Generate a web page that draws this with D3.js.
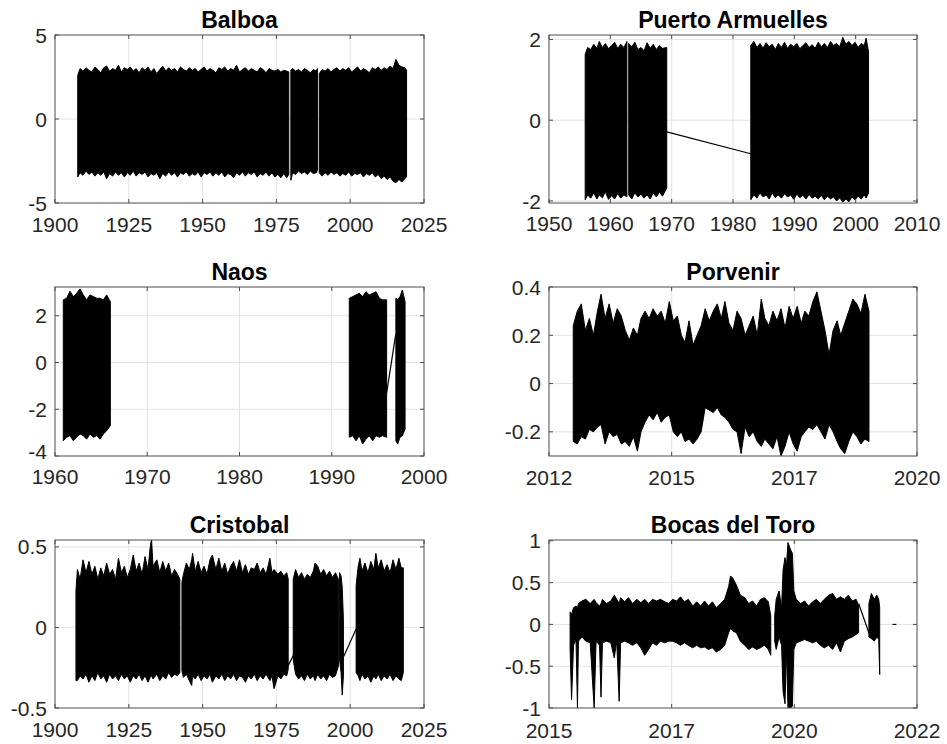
<!DOCTYPE html>
<html>
<head>
<meta charset="utf-8">
<script src="https://cdn.jsdelivr.net/npm/d3@7"></script>
<style>
  html, body { margin: 0; padding: 0; background: #fff; }
  svg { display: block; }
  text { font-family: Arial, "Liberation Sans", Helvetica, sans-serif; }
</style>
</head>
<body>
<svg id="chart" width="947" height="744"></svg>
<script>
// ---------- DATA (rows: [time, upper envelope, lower envelope]; null = data gap) ----------
const titles = ["Balboa", "Puerto Armuelles", "Naos", "Porvenir", "Cristobal", "Bocas del Toro"];

const balboaData = [
  [1907.7,2.6,-3.45],[1908.5,3.0,-3.2],[1909.5,2.85,-3.35],[1910.5,3.05,-3.1],[1911.5,2.9,-3.3],[1912.5,2.8,-3.15],
  [1913.5,3.1,-3.4],[1914.5,2.95,-3.2],[1915.5,2.75,-3.35],[1916.5,3.05,-3.15],[1917.5,3.15,-3.55],[1918.5,2.85,-3.25],
  [1919.5,3.0,-3.4],[1920.5,2.9,-3.15],[1921.5,3.2,-3.35],[1922.5,2.8,-3.2],[1923.5,3.05,-3.45],[1924.5,2.95,-3.2],
  [1925.5,3.1,-3.35],[1926.5,2.85,-3.1],[1927.5,3.0,-3.4],[1928.5,2.75,-3.2],[1929.5,3.05,-3.3],[1930.5,2.9,-3.15],
  [1931.5,3.1,-3.45],[1932.5,2.8,-3.25],[1933.5,3.0,-3.35],[1934.5,2.7,-3.2],[1935.5,2.95,-3.55],[1936.5,3.15,-3.25],
  [1937.5,2.85,-3.4],[1938.5,3.05,-3.15],[1939.5,2.9,-3.35],[1940.5,3.0,-3.2],[1941.5,2.8,-3.45],[1942.5,3.1,-3.2],
  [1943.5,2.95,-3.3],[1944.5,2.85,-3.15],[1945.5,3.05,-3.4],[1946.5,2.9,-3.25],[1947.5,3.0,-3.35],[1948.5,2.8,-3.15],
  [1949.5,2.95,-3.45],[1950.5,3.1,-3.2],[1951.5,2.85,-3.3],[1952.5,3.0,-3.15],[1953.5,2.9,-3.4],[1954.5,2.75,-3.2],
  [1955.5,3.05,-3.35],[1956.5,2.95,-3.15],[1957.5,3.1,-3.45],[1958.5,2.85,-3.25],[1959.5,3.0,-3.3],[1960.5,2.9,-3.5],
  [1961.5,3.2,-3.2],[1962.5,2.8,-3.35],[1963.5,2.95,-3.15],[1964.5,3.05,-3.4],[1965.5,2.85,-3.2],[1966.5,3.0,-3.3],
  [1967.5,2.9,-3.15],[1968.5,2.8,-3.45],[1969.5,3.05,-3.25],[1970.5,2.95,-3.35],[1971.5,2.75,-3.15],[1972.5,3.0,-3.4],
  [1973.5,2.9,-3.2],[1974.5,2.85,-3.45],[1975.5,2.95,-3.3],[1976.5,2.8,-3.5],[1977.5,2.9,-3.25],[1978.5,2.85,-3.5],
  [1979.2,2.8,-3.3],
  null,
  [1979.9,2.9,-3.65],[1980.5,3.0,-3.2],[1981.5,2.85,-3.3],[1982.5,2.95,-3.1],[1983.5,2.8,-3.25],[1984.5,3.0,-3.15],
  [1985.5,2.9,-3.3],[1986.5,2.75,-3.1],[1987.5,2.95,-3.25],[1988.5,2.85,-3.2],[1988.9,3.0,-3.05],
  null,
  [1989.5,2.7,-3.2],[1990.5,2.95,-3.4],[1991.5,2.85,-3.2],[1992.5,3.0,-3.35],[1993.5,2.8,-3.15],[1994.5,2.95,-3.3],
  [1995.5,3.05,-3.2],[1996.5,2.85,-3.4],[1997.5,3.0,-3.25],[1998.5,2.9,-3.35],[1999.5,3.05,-3.15],[2000.5,2.8,-3.4],
  [2001.5,2.95,-3.25],[2002.5,3.1,-3.3],[2003.5,2.85,-3.2],[2004.5,3.0,-3.45],[2005.5,2.9,-3.25],[2006.5,2.75,-3.35],
  [2007.5,3.05,-3.2],[2008.5,2.95,-3.45],[2009.5,3.1,-3.3],[2010.5,2.9,-3.55],[2011.5,3.05,-3.4],[2012.5,2.95,-3.6],
  [2013.5,3.15,-3.45],[2014.5,3.0,-3.7],[2015.5,3.55,-3.8],[2016.5,3.2,-3.6],[2017.5,3.1,-3.75],[2018.5,3.05,-3.55],
  [2019.1,2.9,-3.45]
];
const balboaLinks = [];

const armuellesData = [
  [1955.9,1.63,-1.97],[1956.3,1.8,-1.85],[1956.8,1.75,-1.93],[1957.3,1.88,-1.8],[1957.8,1.78,-1.95],[1958.2,1.95,-1.85],
  [1958.7,1.8,-1.92],[1959.2,1.9,-1.78],[1959.7,1.77,-1.96],[1960.2,1.85,-1.87],[1960.7,1.93,-1.95],[1961.2,1.78,-1.82],
  [1961.7,1.88,-1.93],[1962.2,1.8,-1.85],[1962.7,1.95,-1.9],
  null,
  [1963.0,1.9,-1.85],[1963.5,1.82,-1.95],[1964.0,1.93,-1.8],[1964.5,1.75,-1.9],[1965.0,1.8,-1.83],[1965.5,1.72,-1.93],
  [1966.0,1.92,-1.85],[1966.5,1.78,-1.95],[1967.0,1.88,-1.8],[1967.5,1.75,-1.9],[1968.0,1.85,-1.78],[1968.5,1.78,-1.88],
  [1969.2,1.8,-1.68],
  null,
  [1982.9,1.85,-1.97],[1983.4,1.95,-1.85],[1983.9,1.8,-1.93],[1984.4,1.9,-1.8],[1984.9,1.78,-1.9],[1985.4,1.92,-1.85],
  [1985.9,1.82,-1.95],[1986.4,1.88,-1.8],[1986.9,1.75,-1.92],[1987.4,1.9,-1.85],[1987.9,1.8,-1.93],[1988.4,1.93,-1.82],
  [1988.9,1.78,-1.9],[1989.4,1.88,-1.85],[1989.9,1.82,-1.96],[1990.4,1.9,-1.83],[1990.9,1.77,-1.92],[1991.4,1.85,-1.86],
  [1991.9,1.92,-1.95],[1992.4,1.8,-1.84],[1992.9,1.87,-1.93],[1993.4,1.78,-1.88],[1993.9,1.93,-1.95],[1994.4,1.82,-1.86],
  [1994.9,1.9,-1.97],[1995.4,1.8,-1.88],[1995.9,1.95,-1.95],[1996.4,1.85,-1.9],[1996.9,1.9,-2.0],[1997.4,1.82,-1.92],
  [1997.9,2.05,-2.03],[1998.4,1.88,-1.95],[1998.9,1.95,-2.02],[1999.4,1.85,-1.9],[1999.9,1.93,-1.97],[2000.4,1.8,-1.88],
  [2000.9,1.9,-1.95],[2001.4,1.85,-1.85],[2001.7,2.03,-1.93],[2002.1,1.7,-1.8]
];
const armuellesLinks = [ [[1969.2,-0.29],[1982.9,-0.83]] ];

const naosData = [
  [1960.9,2.68,-3.35],[1961.26,2.75,-3.2],[1961.63,3.05,-3.13],[1961.99,2.82,-3.35],[1962.35,2.96,-3.2],[1962.71,3.15,-3.06],
  [1963.07,2.89,-3.13],[1963.43,2.68,-3.28],[1963.79,2.89,-3.06],[1964.16,2.82,-3.2],[1964.52,2.75,-3.13],[1964.88,2.75,-3.28],
  [1965.24,2.68,-3.06],[1965.6,2.89,-2.92],[1966.0,2.6,-2.7],
  null,
  [1991.9,2.75,-3.2],[1992.27,2.82,-3.13],[1992.63,2.89,-3.35],[1992.99,2.96,-3.13],[1993.35,2.82,-3.49],[1993.71,3.03,-3.28],
  [1994.07,2.89,-3.13],[1994.44,2.96,-3.35],[1994.8,3.03,-3.13],[1995.16,2.75,-3.2],[1995.52,2.68,-3.13],[1995.95,2.68,-3.2],
  null,
  [1996.95,2.75,-3.35],[1997.15,2.7,-3.49],[1997.4,2.82,-3.2],[1997.65,3.1,-3.13],[1997.95,2.6,-2.85]
];
const naosLinks = [ [[1995.95,-1.3],[1996.93,1.19]] ];

const porvenirData = [
  [2012.94,0.24,-0.24],[2013.03,0.3,-0.25],[2013.12,0.33,-0.22],[2013.21,0.22,-0.23],[2013.30,0.27,-0.19],[2013.39,0.2,-0.2],
  [2013.48,0.3,-0.18],[2013.56,0.37,-0.17],[2013.65,0.27,-0.25],[2013.74,0.33,-0.2],[2013.83,0.25,-0.22],[2013.92,0.31,-0.21],
  [2014.01,0.28,-0.25],[2014.10,0.22,-0.24],[2014.19,0.18,-0.26],[2014.28,0.23,-0.22],[2014.37,0.2,-0.28],[2014.45,0.27,-0.2],
  [2014.54,0.3,-0.16],[2014.63,0.27,-0.13],[2014.72,0.31,-0.15],[2014.81,0.28,-0.12],[2014.90,0.3,-0.16],[2014.99,0.25,-0.14],
  [2015.08,0.34,-0.13],[2015.17,0.26,-0.2],[2015.26,0.28,-0.22],[2015.35,0.2,-0.2],[2015.43,0.17,-0.24],[2015.52,0.26,-0.23],
  [2015.61,0.16,-0.25],[2015.70,0.2,-0.23],[2015.79,0.24,-0.2],[2015.88,0.31,-0.1],[2015.97,0.26,-0.11],[2016.06,0.3,-0.12],
  [2016.15,0.33,-0.1],[2016.24,0.27,-0.13],[2016.32,0.34,-0.14],[2016.41,0.25,-0.16],[2016.50,0.22,-0.19],[2016.59,0.3,-0.2],
  [2016.68,0.27,-0.29],[2016.77,0.2,-0.18],[2016.86,0.24,-0.22],[2016.95,0.28,-0.2],[2017.04,0.2,-0.24],[2017.13,0.35,-0.26],
  [2017.21,0.27,-0.23],[2017.30,0.24,-0.25],[2017.39,0.3,-0.27],[2017.48,0.26,-0.22],[2017.57,0.31,-0.3],[2017.66,0.23,-0.26],
  [2017.75,0.32,-0.2],[2017.84,0.27,-0.25],[2017.93,0.32,-0.28],[2018.02,0.25,-0.22],[2018.10,0.3,-0.2],[2018.19,0.28,-0.18],
  [2018.28,0.34,-0.19],[2018.37,0.38,-0.17],[2018.46,0.3,-0.2],[2018.55,0.22,-0.23],[2018.64,0.12,-0.17],[2018.73,0.22,-0.2],
  [2018.82,0.26,-0.24],[2018.90,0.2,-0.27],[2018.99,0.25,-0.29],[2019.08,0.3,-0.24],[2019.17,0.35,-0.2],[2019.26,0.33,-0.22],
  [2019.35,0.29,-0.25],[2019.44,0.37,-0.23],[2019.53,0.3,-0.24]
];
const porvenirLinks = [];

const cristobalData = [
  [1907.1,0.23,-0.33],[1907.6,0.36,-0.33],[1908.5,0.3,-0.3],[1909.5,0.42,-0.32],[1910.5,0.34,-0.29],[1911.5,0.41,-0.34],
  [1912.5,0.33,-0.3],[1913.5,0.38,-0.33],[1914.5,0.3,-0.28],[1915.5,0.37,-0.32],[1916.5,0.32,-0.3],[1917.5,0.4,-0.34],
  [1918.5,0.33,-0.29],[1919.5,0.36,-0.32],[1920.5,0.3,-0.3],[1921.5,0.43,-0.33],[1922.5,0.34,-0.29],[1923.5,0.38,-0.32],
  [1924.5,0.31,-0.3],[1925.5,0.36,-0.34],[1926.5,0.45,-0.3],[1927.5,0.35,-0.32],[1928.5,0.4,-0.29],[1929.5,0.33,-0.33],
  [1930.5,0.44,-0.3],[1931.5,0.36,-0.34],[1932.2,0.49,-0.31],[1932.7,0.55,-0.3],[1933.2,0.38,-0.32],[1934.5,0.42,-0.29],
  [1935.5,0.34,-0.33],[1936.5,0.41,-0.3],[1937.5,0.35,-0.32],[1938.5,0.4,-0.28],[1939.5,0.32,-0.31],[1940.5,0.36,-0.29],
  [1941.5,0.33,-0.3],[1942.3,0.3,-0.28],
  null,
  [1943.0,0.28,-0.27],[1943.5,0.33,-0.31],[1944.5,0.4,-0.29],[1945.5,0.36,-0.33],[1946.3,0.42,-0.36],[1946.6,0.46,-0.3],
  [1947.5,0.35,-0.32],[1948.5,0.41,-0.29],[1949.5,0.34,-0.33],[1950.5,0.38,-0.3],[1951.5,0.33,-0.32],[1952.5,0.42,-0.29],
  [1953.3,0.45,-0.34],[1954.5,0.36,-0.3],[1955.5,0.43,-0.32],[1956.5,0.35,-0.29],[1957.5,0.4,-0.33],[1958.5,0.33,-0.3],
  [1959.5,0.38,-0.32],[1960.5,0.41,-0.29],[1961.5,0.35,-0.33],[1962.5,0.42,-0.3],[1963.5,0.34,-0.31],[1964.5,0.39,-0.34],
  [1965.5,0.33,-0.3],[1966.5,0.37,-0.32],[1967.5,0.36,-0.29],[1968.5,0.4,-0.33],[1969.5,0.34,-0.3],[1970.5,0.37,-0.32],
  [1971.5,0.33,-0.29],[1972.8,0.43,-0.33],[1973.5,0.34,-0.3],[1974.2,0.36,-0.38],[1975.5,0.33,-0.3],[1976.5,0.35,-0.32],
  [1977.5,0.32,-0.29],[1978.5,0.34,-0.3],[1979.0,0.3,-0.26],
  null,
  [1980.7,0.3,-0.2],[1981.5,0.36,-0.29],[1982.5,0.31,-0.32],[1983.5,0.34,-0.3],[1984.5,0.3,-0.33],[1985.5,0.33,-0.29],
  [1986.5,0.31,-0.32],[1987.5,0.35,-0.3],[1988.1,0.4,-0.33],[1989.0,0.38,-0.29],[1990.0,0.33,-0.32],[1991.0,0.36,-0.3],
  [1992.0,0.32,-0.33],[1993.0,0.35,-0.29],[1994.0,0.31,-0.31],[1995.0,0.34,-0.3],[1996.0,0.3,-0.24],
  null,
  [1996.4,0.34,-0.2],[1996.9,0.32,-0.28],[1997.3,0.25,-0.42],[1997.7,0.05,-0.3],
  null,
  [2002.0,0.26,-0.28],[2002.7,0.38,-0.3],[2003.3,0.43,-0.33],[2004.0,0.35,-0.29],[2005.0,0.4,-0.32],[2006.0,0.34,-0.3],
  [2007.0,0.41,-0.34],[2008.0,0.36,-0.3],[2008.7,0.46,-0.32],[2009.5,0.37,-0.29],[2010.5,0.42,-0.33],[2011.5,0.35,-0.3],
  [2012.5,0.39,-0.32],[2013.5,0.34,-0.29],[2014.5,0.42,-0.33],[2015.5,0.36,-0.3],[2016.5,0.43,-0.32],[2017.3,0.37,-0.33],
  [2018.0,0.37,-0.28]
];
const cristobalLinks = [ [[1978.9,-0.24],[1981.1,-0.16]], [[1997.8,-0.18],[2002.0,-0.01]] ];

const bocasData = [
  [2015.43,0.15,-0.3],[2015.46,0.12,-0.9],[2015.50,0.2,-0.25],[2015.55,0.22,-0.18],[2015.58,0.2,-1.0],[2015.60,0.25,-0.2],
  [2015.67,0.28,-0.15],[2015.75,0.3,-0.2],[2015.84,0.25,-0.22],[2015.92,0.3,-1.0],[2015.96,0.26,-0.2],[2016.03,0.22,-0.25],
  [2016.06,0.25,-0.87],[2016.09,0.3,-0.22],[2016.17,0.25,-0.2],[2016.26,0.28,-0.22],[2016.33,0.35,-0.4],[2016.38,0.3,-0.2],
  [2016.43,0.25,-0.92],[2016.46,0.32,-0.22],[2016.54,0.27,-0.2],[2016.62,0.32,-0.22],[2016.70,0.25,-0.25],[2016.79,0.3,-0.22],
  [2016.87,0.26,-0.28],[2016.95,0.3,-0.37],[2017.03,0.25,-0.3],[2017.11,0.3,-0.22],[2017.19,0.28,-0.25],[2017.27,0.3,-0.2],
  [2017.36,0.27,-0.22],[2017.44,0.25,-0.2],[2017.52,0.3,-0.2],[2017.60,0.28,-0.22],[2017.68,0.33,-0.25],[2017.76,0.27,-0.22],
  [2017.84,0.3,-0.25],[2017.93,0.22,-0.28],[2018.01,0.27,-0.25],[2018.09,0.22,-0.28],[2018.17,0.28,-0.27],[2018.25,0.22,-0.3],
  [2018.33,0.27,-0.28],[2018.41,0.2,-0.33],[2018.50,0.25,-0.3],[2018.58,0.3,-0.25],[2018.66,0.45,-0.1],[2018.70,0.58,-0.05],
  [2018.75,0.55,-0.08],[2018.82,0.47,-0.1],[2018.90,0.35,-0.2],[2018.99,0.32,-0.25],[2019.07,0.25,-0.3],[2019.15,0.28,-0.27],
  [2019.23,0.22,-0.3],[2019.31,0.3,-0.28],[2019.39,0.32,-0.25],[2019.47,0.27,-0.3],[2019.52,0.1,-0.37],
  null,
  [2019.60,0.1,-0.2],[2019.63,0.3,-0.3],[2019.69,0.4,-0.15],[2019.74,0.2,-0.25],[2019.77,0.65,-0.8],[2019.81,0.8,-0.95],
  [2019.84,0.7,-0.3],[2019.87,0.98,-1.0],[2019.92,0.9,-1.0],[2019.96,0.85,-0.98],[2019.99,0.4,-0.3],[2020.04,0.3,-0.22],
  [2020.13,0.25,-0.2],[2020.21,0.28,-0.18],[2020.29,0.22,-0.2],[2020.37,0.27,-0.22],[2020.45,0.3,-0.2],[2020.53,0.25,-0.25],
  [2020.61,0.3,-0.28],[2020.70,0.35,-0.25],[2020.78,0.37,-0.3],[2020.86,0.3,-0.22],[2020.94,0.33,-0.33],[2021.02,0.3,-0.2],
  [2021.10,0.35,-0.17],[2021.18,0.28,-0.15],[2021.26,0.3,-0.12],[2021.31,0.22,-0.1],
  null,
  [2021.52,0.25,-0.15],[2021.57,0.37,-0.17],[2021.63,0.3,-0.2],[2021.68,0.35,-0.15],[2021.72,0.3,-0.18],[2021.74,0.2,-0.6]
];
const bocasLinks = [ [[2021.31,0.25],[2021.55,-0.15]], [[2022.0,0],[2022.08,0]] ];

// axis ticks / limits
const balboaXTicks = [1900, 1925, 1950, 1975, 2000, 2025];
const balboaYTicks = [-5, 0, 5];
const armuellesXTicks = [1950, 1960, 1970, 1980, 1990, 2000, 2010];
const armuellesYTicks = [-2, 0, 2];
const naosXTicks = [1960, 1970, 1980, 1990, 2000];
const naosYTicks = [-4, -2, 0, 2];
const porvenirXTicks = [2012.4, 2015.133, 2017.867, 2020.6];
const porvenirXLabels = ["2012", "2015", "2017", "2020"];
const porvenirYTicks = [-0.2, 0, 0.2, 0.4];
const cristobalXTicks = [1900, 1925, 1950, 1975, 2000, 2025];
const cristobalYTicks = [-0.5, 0, 0.5];
const bocasXTicks = [2015, 2017.5, 2020, 2022.5];
const bocasXLabels = ["2015", "2017", "2020", "2022"];
const bocasYTicks = [-1, -0.5, 0, 0.5, 1];

// ---------- LAYOUT ----------
const panels = [
  { title: titles[0], data: balboaData, links: balboaLinks, xd: [1900, 2025], yd: [-5, 5],
    xt: balboaXTicks, xl: null, yt: balboaYTicks, box: [55, 35, 424, 203], xlb: 232 },
  { title: titles[1], data: armuellesData, links: armuellesLinks, xd: [1950, 2010], yd: [-2.05, 2.11],
    xt: armuellesXTicks, xl: null, yt: armuellesYTicks, box: [549, 35, 917, 203], xlb: 231 },
  { title: titles[2], data: naosData, links: naosLinks, xd: [1960, 2000], yd: [-4, 3.23],
    xt: naosXTicks, xl: null, yt: naosYTicks, box: [55, 287, 424, 456], xlb: 484 },
  { title: titles[3], data: porvenirData, links: porvenirLinks, xd: [2012.4, 2020.6], yd: [-0.3, 0.4],
    xt: porvenirXTicks, xl: porvenirXLabels, yt: porvenirYTicks, box: [549, 287, 917, 456], xlb: 485 },
  { title: titles[4], data: cristobalData, links: cristobalLinks, xd: [1900, 2025], yd: [-0.5, 0.543],
    xt: cristobalXTicks, xl: null, yt: cristobalYTicks, box: [55, 540, 424, 708], xlb: 737 },
  { title: titles[5], data: bocasData, links: bocasLinks, xd: [2015, 2022.5], yd: [-1, 1.01],
    xt: bocasXTicks, xl: bocasXLabels, yt: bocasYTicks, box: [549, 540, 917, 708], xlb: 738 }
];

const svg = d3.select("#chart");
const FONT = 'Arial, "Liberation Sans", Helvetica, sans-serif';
const axisColor = "#4d4d4d";
const gridColor = "#e2e2e2";
const tickLen = 4;

panels.forEach((p, i) => {
  const [x0, y0, x1, y1] = p.box;
  const x = d3.scaleLinear().domain(p.xd).range([x0, x1]);
  const y = d3.scaleLinear().domain(p.yd).range([y1, y0]);
  const g = svg.append("g");

  const clipId = "clip" + i;
  svg.append("defs").append("clipPath").attr("id", clipId)
    .append("rect").attr("x", x0).attr("y", y0).attr("width", x1 - x0).attr("height", y1 - y0);

  // grid
  p.xt.forEach(t => {
    const px = x(t);
    if (px > x0 + 1 && px < x1 - 1)
      g.append("line").attr("x1", px).attr("x2", px).attr("y1", y0).attr("y2", y1)
        .attr("stroke", gridColor).attr("stroke-width", 1);
  });
  p.yt.forEach(t => {
    const py = y(t);
    if (py > y0 + 1 && py < y1 - 1)
      g.append("line").attr("x1", x0).attr("x2", x1).attr("y1", py).attr("y2", py)
        .attr("stroke", gridColor).attr("stroke-width", 1);
  });

  // data band
  const dg = g.append("g").attr("clip-path", `url(#${clipId})`);
  const area = d3.area()
    .defined(d => d !== null)
    .x(d => x(d[0])).y0(d => y(d[2])).y1(d => y(d[1]))
    .curve(d3.curveLinear);
  dg.append("path").attr("d", area(p.data))
    .attr("fill", "#000").attr("stroke", "#000").attr("stroke-width", 1).attr("stroke-linejoin", "miter");

  const line = d3.line().x(d => x(d[0])).y(d => y(d[1]));
  p.links.forEach(l => {
    dg.append("path").attr("d", line(l)).attr("fill", "none")
      .attr("stroke", "#000").attr("stroke-width", 1.2);
  });

  // box
  g.append("rect").attr("x", x0).attr("y", y0).attr("width", x1 - x0).attr("height", y1 - y0)
    .attr("fill", "none").attr("stroke", axisColor).attr("stroke-width", 1);

  // ticks (inward, all sides)
  p.xt.forEach(t => {
    const px = x(t);
    g.append("line").attr("x1", px).attr("x2", px).attr("y1", y1).attr("y2", y1 - tickLen).attr("stroke", axisColor);
    g.append("line").attr("x1", px).attr("x2", px).attr("y1", y0).attr("y2", y0 + tickLen).attr("stroke", axisColor);
  });
  p.yt.forEach(t => {
    const py = y(t);
    g.append("line").attr("x1", x0).attr("x2", x0 + tickLen).attr("y1", py).attr("y2", py).attr("stroke", axisColor);
    g.append("line").attr("x1", x1).attr("x2", x1 - tickLen).attr("y1", py).attr("y2", py).attr("stroke", axisColor);
  });

  // tick labels
  p.xt.forEach((t, k) => {
    g.append("text").attr("x", x(t)).attr("y", p.xlb)
      .attr("text-anchor", "middle").attr("font-size", 21).attr("fill", "#262626")
      .style("font-family", FONT)
      .text(p.xl ? p.xl[k] : String(t));
  });
  p.yt.forEach((t, k) => {
    // lowest label of the Naos panel is nudged up a little so it clears the year labels
    const nudge = (i === 2 && k === 0) ? -5 : 0;
    g.append("text").attr("x", x0 - 8).attr("y", y(t) + nudge).attr("dy", "0.36em")
      .attr("text-anchor", "end").attr("font-size", 21).attr("fill", "#262626")
      .style("font-family", FONT)
      .text(String(t));
  });

  // title
  g.append("text").attr("x", (x0 + x1) / 2).attr("y", y0 - 7)
    .attr("text-anchor", "middle").attr("font-size", 23).attr("font-weight", "bold").attr("fill", "#000")
    .style("font-family", FONT)
    .text(p.title);
});
</script>
</body>
</html>
